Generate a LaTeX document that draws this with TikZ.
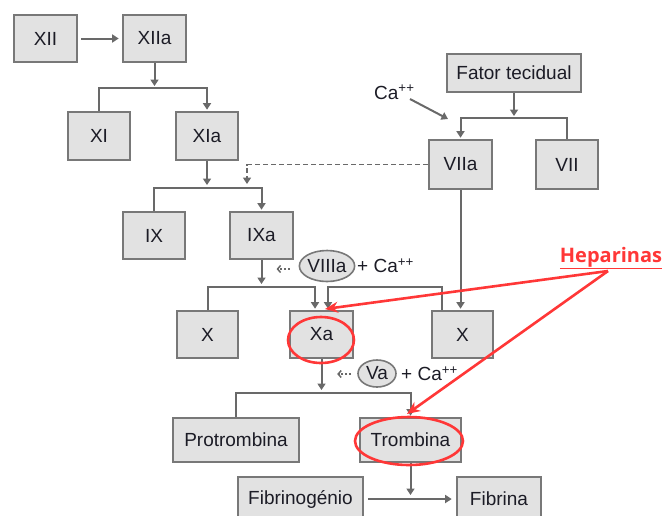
\documentclass[tikz,border=0pt]{standalone}
\usepackage{fontspec}
\setmainfont{Liberation Sans}
\newfontfamily\notefont{Open Sans}
\usetikzlibrary{arrows.meta,shapes.geometric}

\definecolor{boxfill}{RGB}{226,226,226}
\definecolor{boxline}{RGB}{120,120,120}
\definecolor{wire}{RGB}{105,105,105}
\definecolor{hired}{RGB}{255,55,55}
\definecolor{ink}{RGB}{28,28,38}

\begin{document}
\begin{tikzpicture}[x=1pt,y=-1pt,
  factor/.style={rectangle, draw=boxline, fill=boxfill, line width=2.6pt,
    minimum width=62pt, minimum height=47pt, inner sep=0pt, text=ink,
    font=\fontsize{19}{22}\selectfont},
  cofactor/.style={ellipse, draw=boxline, fill=boxfill, line width=1.6pt,
    inner sep=0pt, text=ink, font=\fontsize{19}{22}\selectfont},
  label/.style={inner sep=0pt, text=ink, font=\fontsize{19}{22}\selectfont},
  flow/.style={draw=wire, line width=2pt, -{Triangle[length=6.5pt,width=8pt]}},
  hint/.style={draw=wire, line width=1.5pt, dash pattern=on 2pt off 2pt,
    -{Straight Barb[length=3pt,width=7pt,line width=1.5pt]}},
  ring/.style={ellipse, draw=hired, line width=2.6pt, inner sep=0pt},
  inhibit/.style={draw=hired, line width=2.6pt, -{Stealth[length=13pt,width=11pt]}},
]
\useasboundingbox (0,0) rectangle (668,515);

% --- intrinsic pathway ---
\node[factor, minimum width=63pt] (xii)  at (45.5,38.5)  {XII};
\node[factor, minimum width=63pt] (xiia) at (154.5,38.5) {XIIa};
\node[factor, minimum height=48pt] (xi)  at (99,136)     {XI};
\node[factor, minimum height=48pt] (xia) at (207,136)    {XIa};
\node[factor] (ix)  at (154,235.5)  {IX};
\node[factor, minimum width=63pt] (ixa) at (261.5,235.5) {IXa};

% --- extrinsic pathway ---
\node[factor, minimum width=134pt, minimum height=38pt] (ft) at (514,73) {Fator tecidual};
\node[factor, minimum width=63pt, minimum height=49pt] (viia) at (460.5,164.5) {VIIa};
\node[factor, minimum height=49pt] (vii) at (567,164.5) {VII};

% --- common pathway ---
\node[factor, minimum width=61pt] (xl) at (207.5,334.5) {X};
\node[factor, minimum width=63pt] (xa) at (321.5,334.5) {Xa};
\node[factor, minimum width=61pt] (xr) at (462.5,334.5) {X};
\node[factor, minimum width=126pt, minimum height=44pt] (pro) at (236,440) {Protrombina};
\node[factor, minimum width=101pt, minimum height=44pt] (tro) at (410.5,440) {Trombina};
\node[factor, minimum width=125pt, minimum height=44pt] (fgn) at (300.5,499) {Fibrinogénio};
\node[factor, minimum width=84pt, minimum height=44pt] (fib) at (499,499) {Fibrina};

% --- cofactors ---
\node[cofactor, minimum width=54pt, minimum height=31pt] (viiia) at (327,266) {VIIIa};
\node[label, anchor=west] (ca2) at (357,266) {+ Ca\textsuperscript{++}};
\node[cofactor, minimum width=38pt, minimum height=27pt] (va) at (377,373.5) {Va};
\node[label, anchor=west] (ca3) at (401,373.5) {+ Ca\textsuperscript{++}};
\node[label, anchor=base west] (ca1) at (374,99) {Ca\textsuperscript{++}};

% junction levels of the brackets
\coordinate (j1) at (155,88);
\coordinate (j2) at (207,188);
\coordinate (j3) at (261,287);
\coordinate (j4) at (513,118);
\coordinate (j5) at (323,393);
\coordinate (drop) at (247,186);
\coordinate (xa-in1) at ([xshift=-6.5pt]xa.north);
\coordinate (xa-in2) at ([xshift=6.5pt]xa.north);
\coordinate (xr-out) at ([xshift=-20.5pt]xr.north);
\coordinate (ca1-foot) at (410,99);
\coordinate (ca1-tip) at (448,119);

% --- connectors ---
\draw[flow, shorten <=3pt, shorten >=3pt] (xii.east) -- (xiia.west);
\draw[flow, shorten >=2pt] (xiia.south) -- (xiia.south |- j1);
\draw[flow, shorten >=1pt] (xi.north) |- (xia.north |- j1) -- (xia.north);

\draw[flow, shorten >=3pt] (xia.south) -- (xia.south |- j2);
\draw[flow, dash pattern=on 5pt off 3pt, line width=1.6pt, shorten >=2pt] (viia.west) -| (drop);
\draw[flow, shorten >=1pt] (ix.north) |- (ixa.north |- j2) -- (ixa.north);

\draw[flow, shorten >=3pt] (ixa.south) -- (ixa.south |- j3);
\draw[hint] ([xshift=-9pt,yshift=-3pt]viiia.west) -- ++(-13,0);
\draw[flow, shorten >=1pt] (xl.north) |- (xa-in1 |- j3) -- (xa-in1);
\draw[flow, shorten >=1pt] (xr-out) |- (xa-in2 |- j3) -- (xa-in2);

\draw[flow, shorten >=2pt] (ft.south) -- (ft.south |- j4);
\draw[flow, shorten >=1pt] (vii.north) |- (viia.north |- j4) -- (viia.north);
\draw[flow] (ca1-foot) -- (ca1-tip);
\draw[flow, shorten >=1pt] (viia.south) -- (viia.south |- xr.north);

\draw[flow, shorten >=3pt] (xa.south) -- (xa.south |- j5);
\draw[hint] ([xshift=-6pt,yshift=-0.5pt]va.west) -- ++(-14,0);
\draw[flow, shorten >=1pt] (pro.north) |- (tro.north |- j5) -- (tro.north);
\draw[flow, shorten >=4pt] (tro.south) -- (tro.south |- fgn.east);
\draw[flow, shorten <=4pt, shorten >=4pt] (fgn.east) -- (fib.west);

% --- heparin targets ---
\node[ring, minimum width=66pt, minimum height=46pt] (xa-ring) at (321,340) {};
\node[ring, minimum width=108pt, minimum height=48pt] (tro-ring) at (409,441) {};
\node[inner sep=0pt, text=hired, font=\notefont\bfseries\fontsize{20}{24}\selectfont]
  (hep) at (611,258) {\underline{Heparinas}};
\coordinate (hep-foot) at (608,271);
\coordinate (xa-hit) at (325,309);
\coordinate (tro-hit) at (407,414);
\draw[inhibit] (hep-foot) -- (xa-hit);
\draw[inhibit] (hep-foot) -- (tro-hit);
\end{tikzpicture}
\end{document}
